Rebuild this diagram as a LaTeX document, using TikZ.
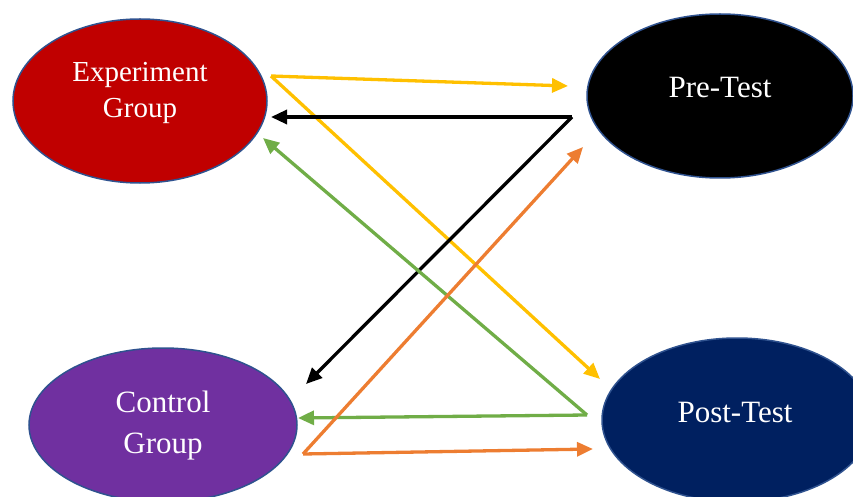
\documentclass[tikz,border=0pt]{standalone}
\usepackage{fontspec}
\setmainfont{Liberation Serif}
\usetikzlibrary{shapes.geometric,arrows.meta}
\definecolor{exred}{HTML}{C00000}
\definecolor{ctpurple}{HTML}{7030A0}
\definecolor{ptnavy}{HTML}{002060}
\definecolor{edgeblue}{HTML}{2F528F}
\definecolor{cyellow}{HTML}{FFC000}
\definecolor{cgreen}{HTML}{70AD47}
\definecolor{corange}{HTML}{ED7D31}
\tikzset{
  blob/.style={ellipse, draw=edgeblue, line width=1.5pt, text=white, align=center, inner sep=0pt},
  conn/.style={line width=3.3pt, -{Triangle[length=16pt,width=14pt]}}
}
\begin{document}
\begin{tikzpicture}[x=1pt,y=-1pt]
\useasboundingbox (0,0) rectangle (853,497);
\path[clip] (0,0) rectangle (853,497);
\node[blob, fill=exred, minimum width=254pt, minimum height=164pt] (exp) at (140,101) {};
\node[text=white, font=\fontsize{29}{36}\selectfont, align=center] (expt) at (140,93) {Experiment\\Group};
\node[blob, fill=black, minimum width=266pt, minimum height=164pt] (pre) at (720,96) {};
\node[text=white, font=\fontsize{31}{38}\selectfont] (pret) at (720,88) {Pre-Test};
\node[blob, fill=ctpurple, minimum width=268pt, minimum height=154pt] (ctl) at (163,425) {};
\node[text=white, font=\fontsize{31}{41}\selectfont, align=center] (ctlt) at (163,426) {Control\\Group};
\node[blob, fill=ptnavy, minimum width=270pt, minimum height=164pt] (post) at (737,420) {};
\node[text=white, font=\fontsize{31}{38}\selectfont] (postt) at (735,412) {Post-Test};

\coordinate (eA) at (271,76);
\coordinate (eB) at (271,117);
\coordinate (eC) at (263,138);
\coordinate (pA) at (568,86);
\coordinate (pB) at (572,117);
\coordinate (pC) at (583,147);
\coordinate (cA) at (306,384);
\coordinate (cB) at (298,418);
\coordinate (cC) at (303,454);
\coordinate (qA) at (600,379);
\coordinate (qB) at (587,415);
\coordinate (qC) at (593,449);

\draw[conn, cyellow] (eA) -- (pA);
\draw[conn, cyellow] (eA) -- (qA);
\draw[conn, black] (pB) -- (eB);
\draw[conn, black] (pB) -- (cA);
\draw[conn, cgreen] (qB) -- (eC);
\draw[conn, cgreen] (qB) -- (cB);
\draw[conn, corange] (cC) -- (pC);
\draw[conn, corange] (cC) -- (qC);
\end{tikzpicture}
\end{document}
